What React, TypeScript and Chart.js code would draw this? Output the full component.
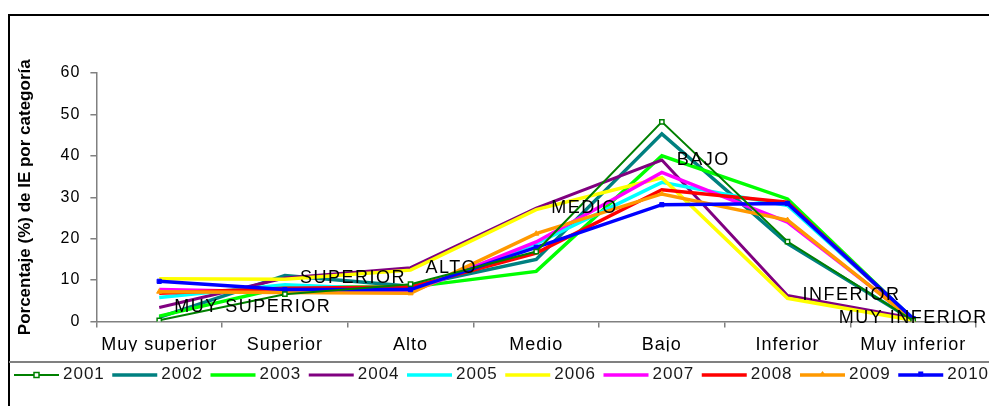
import React, { useEffect, useRef } from 'react';
import { Chart, registerables } from 'chart.js';

Chart.register(...registerables);

// ---------- data ----------
const CATEGORIES = ['Muy superior', 'Superior', 'Alto', 'Medio', 'Bajo', 'Inferior', 'Muy inferior'];
const SERIES_LABELS = ['2001', '2002', '2003', '2004', '2005', '2006', '2007', '2008', '2009', '2010'];
const V2001 = [0.3, 6.6, 9.0, 16.9, 48.2, 19.3, 0.2];
const V2002 = [1.0, 11.1, 8.5, 15.0, 45.3, 18.8, 0.3];
const V2003 = [1.3, 8.3, 8.3, 12.1, 40.0, 29.6, 0.5];
const V2004 = [3.4, 10.5, 13.0, 27.4, 39.0, 6.3, 0.8];
const V2005 = [5.8, 8.9, 7.6, 18.8, 33.6, 28.0, 0.7];
const V2006 = [10.3, 10.2, 12.4, 27.0, 34.7, 5.6, 0.3];
const V2007 = [7.7, 7.1, 7.1, 19.2, 36.0, 24.0, 0.5];
const V2008 = [6.8, 8.0, 8.3, 16.5, 31.8, 28.8, 0.4];
const V2009 = [7.2, 7.0, 6.8, 21.2, 30.8, 24.5, 0.3];
const V2010 = [9.7, 7.7, 7.7, 17.9, 28.2, 28.5, 0.7];
const SERIES_VALUES = [V2001, V2002, V2003, V2004, V2005, V2006, V2007, V2008, V2009, V2010];
const POINT_LABELS = ['MUY SUPERIOR', 'SUPERIOR', 'ALTO', 'MEDIO', 'BAJO', 'INFERIOR', 'MUY INFERIOR'];
const LABELLED_SERIES = '2004';
const Y_TITLE = 'Porcentaje (%) de IE por categoría';

// ---------- styles ----------
const COLORS = ['#008000', '#008080', '#00ff00', '#800080', '#00ffff', '#ffff00', '#ff00ff', '#ff0000', '#ff9900', '#0000ff'];
const WIDTHS = [2, 3.5, 3.5, 3, 3.5, 3.5, 3.5, 3.5, 3.5, 3.5];
const MARKERS: (string | null)[] = ['rectHollow', null, null, null, null, null, null, null, 'triangle', 'rect'];
const ORDERS = [0, 9, 8, 7, 6, 5, 4, 3, 2, 1];
const FONT = '"Liberation Sans", Arial, sans-serif';

export default function App() {
  const ref = useRef<HTMLCanvasElement | null>(null);

  useEffect(() => {
    const canvas = ref.current;
    if (!canvas) return;

    const datasets = SERIES_LABELS.map((label, i) => {
      const m = MARKERS[i];
      return {
        label,
        data: SERIES_VALUES[i],
        borderColor: COLORS[i],
        backgroundColor: COLORS[i],
        borderWidth: WIDTHS[i],
        tension: 0,
        fill: false,
        order: ORDERS[i],
        pointRadius: m ? 3 : 0,
        pointHoverRadius: m ? 3 : 0,
        pointStyle: m === 'triangle' ? 'triangle' : 'rect',
        pointBorderWidth: m === 'rectHollow' ? 1.5 : 1,
        pointBorderColor: COLORS[i],
        pointBackgroundColor: m === 'rectHollow' ? '#ffffff' : COLORS[i],
      };
    });

    const spacingPlugin = {
      id: 'spacing',
      beforeDraw(chart: any) {
        (chart.ctx as any).letterSpacing = '1px';
      },
    };

    const titlePlugin = {
      id: 'yTitle',
      afterDraw(chart: any) {
        const ctx = chart.ctx;
        const area = chart.chartArea;
        ctx.save();
        (ctx as any).letterSpacing = '0px';
        ctx.translate(25, (area.top + area.bottom) / 2);
        ctx.rotate(-Math.PI / 2);
        ctx.font = `bold 17px ${FONT}`;
        ctx.fillStyle = '#000';
        ctx.textAlign = 'center';
        ctx.textBaseline = 'middle';
        ctx.fillText(Y_TITLE, 0, 0);
        ctx.restore();
      },
    };

    const labelsPlugin = {
      id: 'pointLabels',
      afterDatasetsDraw(chart: any) {
        const idx = SERIES_LABELS.indexOf(LABELLED_SERIES);
        const meta = chart.getDatasetMeta(idx);
        const ctx = chart.ctx;
        ctx.save();
        (ctx as any).letterSpacing = '1.5px';
        ctx.font = `18px ${FONT}`;
        ctx.fillStyle = '#000';
        ctx.textBaseline = 'middle';
        meta.data.forEach((pt: any, i: number) => {
          const last = i === meta.data.length - 1;
          ctx.textAlign = last ? 'center' : 'left';
          ctx.fillText(POINT_LABELS[i], last ? pt.x : pt.x + 15, pt.y);
        });
        ctx.restore();
      },
    };

    const legendPlugin = {
      id: 'customLegend',
      afterDraw(chart: any) {
        const ctx = chart.ctx;
        ctx.save();
        const y = 375;
        const start = 14;
        const stride = 98.25;
        chart.data.datasets.forEach((ds: any, i: number) => {
          const x0 = start + i * stride;
          ctx.strokeStyle = ds.borderColor;
          ctx.lineWidth = ds.borderWidth;
          ctx.beginPath();
          ctx.moveTo(x0, y);
          ctx.lineTo(x0 + 45, y);
          ctx.stroke();
          const m = MARKERS[i];
          const cx = x0 + 22.5;
          if (m === 'rectHollow') {
            ctx.fillStyle = '#fff';
            ctx.lineWidth = 1.5;
            ctx.fillRect(cx - 2.5, y - 2.5, 5, 5);
            ctx.strokeRect(cx - 2.5, y - 2.5, 5, 5);
          } else if (m === 'rect') {
            ctx.fillStyle = ds.borderColor;
            ctx.fillRect(cx - 2.5, y - 3.5, 5, 5);
          } else if (m === 'triangle') {
            ctx.fillStyle = ds.borderColor;
            ctx.beginPath();
            ctx.moveTo(cx - 3, y);
            ctx.lineTo(cx, y - 4);
            ctx.lineTo(cx + 3, y);
            ctx.closePath();
            ctx.fill();
          }
          (ctx as any).letterSpacing = '1px';
          ctx.font = `17px ${FONT}`;
          ctx.fillStyle = '#1a1a1a';
          ctx.textAlign = 'left';
          ctx.textBaseline = 'middle';
          ctx.fillText(ds.label, x0 + 49, y - 1);
        });
        ctx.restore();
      },
    };

    const chart = new Chart(canvas, {
      type: 'line',
      data: { labels: CATEGORIES, datasets: datasets as any },
      options: {
        responsive: false,
        animation: false,
        devicePixelRatio: 1,
        events: [],
        layout: { padding: { left: 11.4, top: 73, right: 24, bottom: 54.5 } },
        plugins: {
          legend: { display: false },
          tooltip: { enabled: false },
          title: { display: false },
        },
        scales: {
          x: {
            type: 'category',
            offset: true,
            afterFit(scale: any) {
              scale.height = 30;
            },
            grid: {
              offset: true,
              drawOnChartArea: false,
              drawTicks: true,
              tickLength: 6,
              color: '#808080',
              lineWidth: 1.5,
            },
            border: { display: true, color: '#808080', width: 1.5 },
            ticks: {
              autoSkip: false,
              maxRotation: 0,
              minRotation: 0,
              padding: 7,
              color: '#000',
              font: { family: FONT, size: 18 },
            },
          },
          y: {
            min: 0,
            max: 60,
            afterFit(scale: any) {
              scale.width = 85;
            },
            ticks: {
              stepSize: 10,
              padding: 10,
              color: '#000',
              font: { family: FONT, size: 16 },
            },
            grid: {
              drawOnChartArea: false,
              drawTicks: true,
              tickLength: 6,
              color: '#808080',
              lineWidth: 1.5,
            },
            border: { display: true, color: '#808080', width: 1.5 },
            title: { display: false },
          },
        },
      },
      plugins: [spacingPlugin, labelsPlugin, legendPlugin, titlePlugin],
    });

    return () => {
      chart.destroy();
    };
  }, []);

  return (
    <div
      style={{
        position: 'fixed',
        left: 0,
        top: 0,
        width: 989,
        height: 406,
        overflow: 'hidden',
        background: '#ffffff',
      }}
    >
      <canvas
        ref={ref}
        width={1000}
        height={406}
        style={{ position: 'absolute', left: 0, top: 0, width: 1000, height: 406 }}
      />
      <div style={{ position: 'absolute', left: 8, top: 14, width: 1000, height: 0, borderTop: '2px solid #000' }} />
      <div style={{ position: 'absolute', left: 8, top: 14, width: 0, height: 400, borderLeft: '2px solid #000' }} />
      <div style={{ position: 'absolute', left: 9, top: 361, width: 1000, height: 0, borderTop: '2px solid #808080' }} />
    </div>
  );
}
